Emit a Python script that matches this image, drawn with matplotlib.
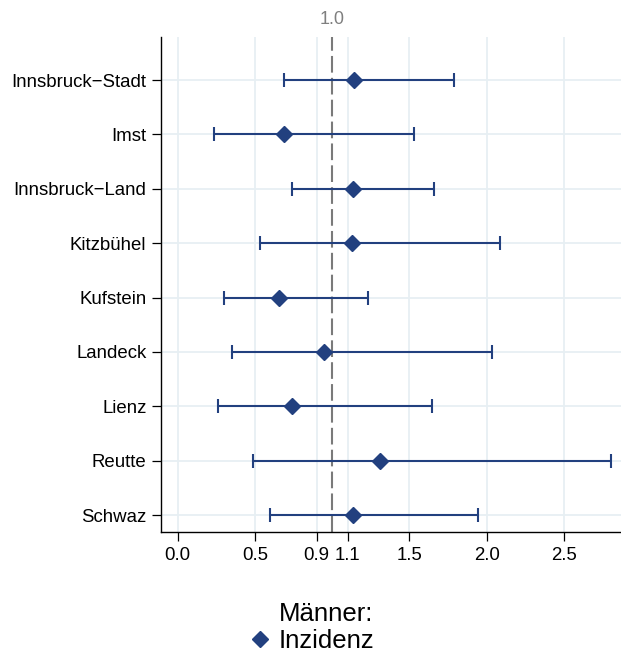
import numpy as np
import matplotlib
matplotlib.use("Agg")
import matplotlib.pyplot as plt
import matplotlib.transforms as mtransforms
from matplotlib.lines import Line2D

# Data
regions = ["Innsbruck\u2212Stadt", "Imst", "Innsbruck\u2212Land", "Kitzbühel",
           "Kufstein", "Landeck", "Lienz", "Reutte", "Schwaz"]
estimate = [1.145, 0.687, 1.133, 1.130, 0.656, 0.947, 0.742, 1.309, 1.137]
lower = [0.687, 0.238, 0.738, 0.535, 0.300, 0.351, 0.259, 0.487, 0.597]
upper = [1.790, 1.530, 1.657, 2.084, 1.231, 2.032, 1.646, 2.805, 1.946]
x_ticks = [0.0, 0.5, 0.9, 1.1, 1.5, 2.0, 2.5]
x_tick_labels = ["0.0", "0.5", "0.9", "1.1", "1.5", "2.0", "2.5"]
ref_value = 1.0

navy = "#22407f"
grid_col = "#e7eff3"

plt.rcParams["font.family"] = ["Liberation Sans", "DejaVu Sans"]

fig = plt.figure(figsize=(6.21, 6.55), dpi=100)
ax = fig.add_axes([0.2593, 0.1878, 0.7407, 0.7557])

y = np.arange(1, len(regions) + 1)
est = np.array(estimate)
err = np.vstack([est - np.array(lower), np.array(upper) - est])

ax.errorbar(est, y, xerr=err, fmt="D", color=navy, ecolor=navy,
            elinewidth=1.5, capsize=4.8, capthick=1.5,
            markersize=8.5, zorder=3)

ax.axvline(ref_value, color="#7a7a7a", linewidth=1.5,
           linestyle=(0, (8, 2.5)), zorder=2)

# Label for the reference line above the panel
trans = mtransforms.blended_transform_factory(ax.transData, ax.transAxes)
ax.text(ref_value, 1.018, f"{ref_value:.1f}", transform=trans,
        ha="center", va="bottom", fontsize=13, color="#7f7f7f")

ax.set_xlim(-0.107, 2.87)
ax.set_ylim(9.31, 0.208)

ax.set_xticks(x_ticks)
ax.set_xticklabels(x_tick_labels)
ax.set_yticks(y)
ax.set_yticklabels(regions)

ax.grid(True, color=grid_col, linewidth=1.3, zorder=0)
ax.set_axisbelow(True)

for s in ["top", "right"]:
    ax.spines[s].set_visible(False)
for s in ["left", "bottom"]:
    ax.spines[s].set_linewidth(1.0)
    ax.spines[s].set_color("black")

ax.tick_params(axis="both", labelsize=13.4, colors="black", length=6.5,
               width=0.9, pad=4)

# Legend below the plot
fig.text(0.449, 0.0625, "Männer:", fontsize=18.5, ha="left", va="center")
handle = Line2D([], [], marker="D", linestyle="none", color=navy, markersize=8)
fig.legend([handle], ["Inzidenz"], loc="center left",
           bbox_to_anchor=(0.382, 0.021), frameon=False, fontsize=18.5,
           handletextpad=0.3, handlelength=0.8, borderpad=0)

fig.savefig("out.png", dpi=100)
